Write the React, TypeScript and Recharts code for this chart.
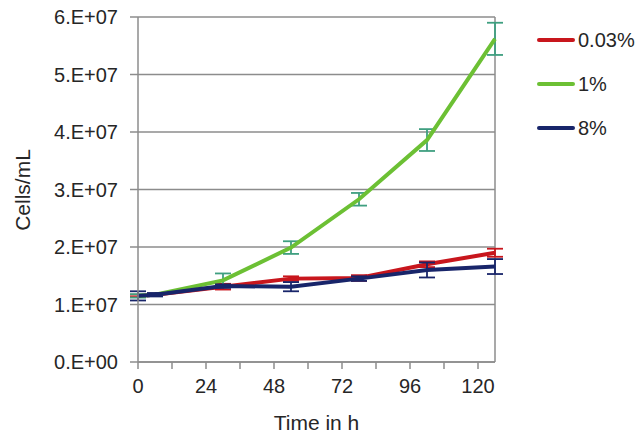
import React from 'react';
import {
  LineChart,
  Line,
  XAxis,
  YAxis,
  CartesianGrid,
  ErrorBar,
  Legend,
  ReferenceLine,
} from 'recharts';

const times = [0, 6, 30, 54, 78, 102, 126];
const seriesNames = ['0.03%', '1%', '8%'];
const seriesColors = ['#c8161d', '#6cc034', '#18256a'];
const errorColors = ['#c8161d', '#3f9f80', '#18256a'];
const red = [1.15e7, 1.17e7, 1.31e7, 1.45e7, 1.46e7, 1.7e7, 1.9e7];
const redErr = [0.02e7, 0.02e7, 0.05e7, 0.04e7, 0.05e7, 0.05e7, 0.07e7];
const green = [1.15e7, 1.17e7, 1.42e7, 1.99e7, 2.83e7, 3.86e7, 5.62e7];
const greenErr = [0.03e7, 0.02e7, 0.12e7, 0.11e7, 0.11e7, 0.19e7, 0.28e7];
const blue = [1.15e7, 1.17e7, 1.32e7, 1.31e7, 1.45e7, 1.6e7, 1.66e7];
const blueErr = [0.08e7, 0.03e7, 0.03e7, 0.08e7, 0.04e7, 0.13e7, 0.13e7];
const xTicks = [0, 12, 24, 36, 48, 60, 72, 84, 96, 108, 120];
const xTickLabels = ['0', '', '24', '', '48', '', '72', '', '96', '', '120'];
const yTicks = [0, 1e7, 2e7, 3e7, 4e7, 5e7, 6e7];
const yTickLabels = ['0.E+00', '1.E+07', '2.E+07', '3.E+07', '4.E+07', '5.E+07', '6.E+07'];

const data = times.map((t, i) => ({
  t,
  s0: red[i],
  e0: redErr[i],
  s1: green[i],
  e1: greenErr[i],
  s2: blue[i],
  e2: blueErr[i],
}));

const FONT = '"Liberation Sans", Arial, sans-serif';
const TXT = '#262626';
const AXIS = '#8c8c8c';

const LegendContent = () => (
  <div style={{ fontFamily: FONT }}>
    {seriesNames.map((n, i) => (
      <div key={n} style={{ display: 'flex', alignItems: 'center', height: 44 }}>
        <div style={{ width: 38, height: 4, background: seriesColors[i], borderRadius: 2 }} />
        <span style={{ fontSize: 20, color: TXT, marginLeft: 3 }}>{n}</span>
      </div>
    ))}
  </div>
);

export default function App() {
  return (
    <div style={{ position: 'absolute', left: 0, top: 0, background: '#fff' }}>
      <LineChart
        width={640}
        height={440}
        data={data}
        margin={{ top: 17, right: 145, bottom: 0, left: 0 }}
      >
        <CartesianGrid horizontal vertical={false} stroke={AXIS} strokeWidth={1.5} />
        <XAxis
          dataKey="t"
          type="number"
          domain={[0, 126]}
          ticks={xTicks}
          tickFormatter={(v: number) => xTickLabels[xTicks.indexOf(v)] ?? ''}
          height={78}
          tickSize={7}
          tickMargin={10}
          stroke={AXIS}
          strokeWidth={1.5}
          tick={{ fill: TXT, fontSize: 20, fontFamily: FONT }}
          interval={0}
          allowDecimals={false}
          label={{
            value: 'Time in h',
            position: 'insideBottom',
            offset: 10,
            fill: TXT,
            fontSize: 21,
            fontFamily: FONT,
          }}
        />
        <YAxis
          type="number"
          domain={[0, 6e7]}
          ticks={yTicks}
          tickFormatter={(v: number) => yTickLabels[yTicks.indexOf(v)] ?? ''}
          width={138}
          tickSize={8}
          tickMargin={12}
          stroke={AXIS}
          strokeWidth={1.5}
          interval={0}
          tick={{ fill: TXT, fontSize: 20, fontFamily: FONT }}
          label={{
            content: () => (
              <text
                x={22}
                y={190}
                transform="rotate(-90 22 190)"
                textAnchor="middle"
                dominantBaseline="central"
                fill={TXT}
                fontSize={21}
                fontFamily={FONT}
              >
                Cells/mL
              </text>
            ),
          }}
        />
        <ReferenceLine x={126} stroke={AXIS} strokeWidth={1.5} />
        {[0, 1, 2].map((i) => (
          <Line
            key={i}
            type="linear"
            dataKey={`s${i}`}
            name={seriesNames[i]}
            stroke={seriesColors[i]}
            strokeWidth={4}
            dot={false}
            isAnimationActive={false}
          >
            <ErrorBar
              dataKey={`e${i}`}
              width={8}
              stroke={errorColors[i]}
              strokeWidth={1.8}
              direction="y"
              isAnimationActive={false}
            />
          </Line>
        ))}
        <Legend
          layout="vertical"
          verticalAlign="middle"
          align="center"
          content={<LegendContent />}
          wrapperStyle={{ position: 'absolute', left: 537, top: 18, width: 100 }}
        />
      </LineChart>
    </div>
  );
}
